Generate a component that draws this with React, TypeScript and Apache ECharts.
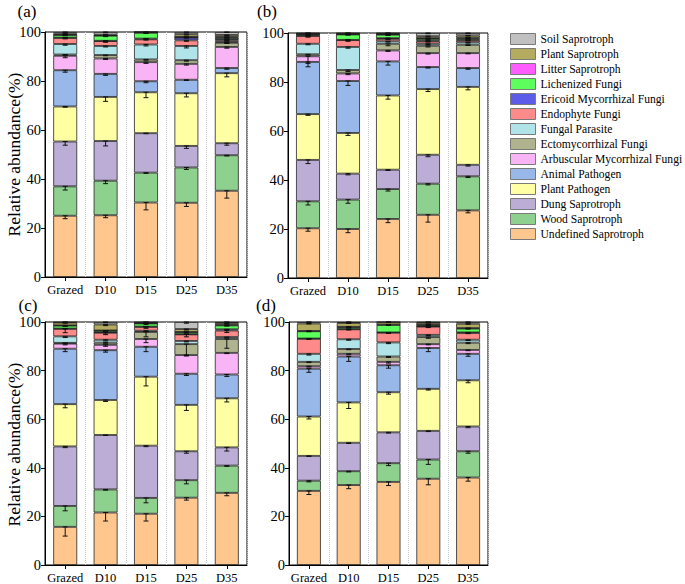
import React, { useEffect, useRef } from 'react';
import * as echarts from 'echarts';

const categories = ['Grazed', 'D10', 'D15', 'D25', 'D35'];
const yTicks = { min: 0, max: 100, interval: 20 };

// stacking order, bottom to top
const groupNames = [
  'Undefined Saprotroph', 'Wood Saprotroph', 'Dung Saprotroph', 'Plant Pathogen',
  'Animal Pathogen', 'Arbuscular Mycorrhizal Fungi', 'Ectomycorrhizal Fungi', 'Fungal Parasite',
  'Endophyte Fungi', 'Ericoid Mycorrhizal Fungi', 'Lichenized Fungi', 'Litter Saprotroph',
  'Plant Saprotroph', 'Soil Saprotroph',
];
const groupColors = [
  '#FFC68E', '#8ED18E', '#BCADD6', '#FFFFA4', '#98B8EA', '#F8B4F4', '#B0B48E',
  '#B0E4E8', '#FF8A8A', '#5C5CE8', '#5CFF5C', '#FF5CFF', '#B3AB60', '#C0C0C0',
];

// rows = groups (order above), columns = categories
const valuesA = [
  [25, 25.2, 30.4, 30.3, 35.2],
  [12, 14.1, 12.2, 14.4, 14.5],
  [18.3, 16.2, 16.1, 8.8, 4.9],
  [14.3, 18, 16.7, 21.5, 28.6],
  [14.8, 9.4, 4.5, 5.5, 2.1],
  [5.9, 6.3, 7.8, 6.5, 8.6],
  [0.5, 1.4, 1.1, 1.5, 1.7],
  [4.3, 3.7, 6.1, 5.8, 0.4],
  [2.5, 2.0, 2.1, 2.3, 0.6],
  [0.1, 0.1, 0.3, 1.1, 0.5],
  [1.1, 2.1, 2.4, 0.2, 0.6],
  [0.1, 0.1, 0.1, 0.1, 0.3],
  [0.4, 0.3, 0.2, 1.1, 0.8],
  [0.7, 1.1, 0.0, 0.9, 1.2],
];
const valuesB = [
  [20.3, 20, 24.1, 25.8, 27.6],
  [11, 12, 12.2, 12.7, 13.9],
  [16.9, 10.6, 7.9, 11.8, 4.7],
  [18.7, 16.6, 30.3, 26.8, 31.8],
  [21.3, 21.2, 13.9, 9, 7.7],
  [2.3, 3.1, 4.5, 5.7, 6.1],
  [0.8, 1.4, 2.7, 3.0, 3.4],
  [4.3, 9.4, 1.0, 0.8, 1.0],
  [3.2, 2.8, 1.0, 1.0, 0.8],
  [0.1, 0.1, 0.3, 0.3, 0.3],
  [0.5, 2.2, 1.4, 0.7, 0.5],
  [0.1, 0.1, 0.2, 0.3, 0.3],
  [0.3, 0.3, 0.3, 0.8, 0.9],
  [0.2, 0.2, 0.2, 1.3, 1.0],
];
const valuesC = [
  [15.7, 21.6, 21.1, 27.7, 29.7],
  [8.6, 9.5, 6.5, 7.2, 11.2],
  [24.5, 22.4, 21.5, 11.9, 7.5],
  [17.4, 14.4, 28.4, 19.1, 20.2],
  [22.8, 20.5, 12.3, 12.8, 9.8],
  [2.1, 2.2, 3.2, 7.7, 8.9],
  [0.3, 0.9, 2.9, 4.5, 5.7],
  [2.7, 1.2, 0.5, 1.3, 0.8],
  [3.1, 2.9, 1.6, 2.7, 2.7],
  [0.1, 0.1, 0.1, 0.1, 0.5],
  [1.2, 0.7, 1.3, 0.8, 1.6],
  [0.1, 0.1, 0.1, 0.1, 0.2],
  [1.2, 2.5, 0.3, 1.2, 0.8],
  [0.2, 1.0, 0.2, 2.9, 0.4],
];
const valuesD = [
  [30.5, 32.9, 34.2, 35.5, 36.0],
  [4.2, 5.7, 7.7, 7.9, 10.8],
  [10.2, 11.7, 12.7, 11.8, 10.2],
  [16.2, 16.6, 16.5, 17.3, 19.0],
  [19.7, 18.9, 11.1, 16.8, 10.9],
  [1.0, 1.1, 1.4, 1.6, 1.6],
  [1.8, 2.0, 2.2, 2.9, 3.0],
  [3.3, 4.0, 5.8, 0.9, 1.2],
  [6.2, 4.1, 4.0, 3.4, 2.8],
  [0.1, 0.1, 0.1, 0.1, 0.2],
  [3.0, 0.8, 3.1, 0.6, 1.6],
  [0.1, 0.1, 0.1, 0.1, 0.2],
  [3.1, 1.6, 1.0, 0.8, 1.8],
  [0.6, 0.4, 0.1, 0.3, 0.7],
];

const errorsA = [
  [1.2, 1.0, 3.0, 1.5, 3.0],
  [1.5, 1.2, 0.3, 0.8, 0.3],
  [1.5, 2.0, 0.2, 1.0, 0.8],
  [0.3, 1.8, 2.2, 1.5, 1.5],
  [0.8, 0.6, 0.6, 0.3, 0.5],
  [0.8, 0.4, 0.5, 0.5, 0.5],
  [0.2, 0.3, 0.3, 0.4, 0.3],
  [0.5, 0.4, 0.6, 0.8, 0.3],
  [0.4, 0.5, 0.3, 0.4, 0.2],
  [0.1, 0.1, 0.1, 0.2, 0.1],
  [0.3, 0.4, 0.3, 0.1, 0.1],
  [0.1, 0.1, 0.1, 0.1, 0.1],
  [0.1, 0.1, 0.1, 0.3, 0.2],
  [0.3, 0.3, 0.0, 0.3, 0.2],
];
const errorsB = [
  [1.2, 1.5, 1.5, 3.0, 1.0],
  [1.5, 1.5, 0.8, 0.5, 0.5],
  [1.5, 0.5, 0.3, 0.8, 0.5],
  [0.5, 1.0, 1.5, 1.0, 1.2],
  [2.0, 1.8, 1.5, 0.4, 0.5],
  [2.9, 0.5, 0.4, 0.4, 0.3],
  [0.3, 0.6, 0.8, 0.5, 0.3],
  [0.4, 0.5, 0.3, 0.3, 0.3],
  [0.5, 0.5, 0.3, 0.3, 0.2],
  [0.1, 0.1, 0.1, 0.1, 0.1],
  [0.2, 0.3, 0.3, 0.2, 0.1],
  [0.1, 0.1, 0.1, 0.1, 0.1],
  [0.1, 0.1, 0.1, 0.2, 0.2],
  [0.1, 0.1, 0.1, 0.3, 0.2],
];
const errorsC = [
  [3.8, 3.5, 3.0, 1.0, 1.2],
  [2.0, 0.3, 2.0, 1.5, 0.3],
  [0.5, 0.2, 0.4, 0.8, 1.5],
  [1.5, 0.6, 3.8, 2.3, 1.5],
  [1.2, 0.8, 2.0, 0.7, 0.8],
  [0.5, 0.6, 1.5, 0.4, 0.3],
  [0.2, 0.5, 2.0, 4.6, 3.8],
  [0.5, 0.5, 0.3, 0.4, 0.3],
  [1.6, 0.8, 0.6, 1.0, 0.8],
  [0.1, 0.1, 0.1, 0.1, 0.2],
  [0.3, 0.2, 0.4, 0.3, 0.3],
  [0.1, 0.1, 0.1, 0.1, 0.1],
  [0.3, 0.5, 0.2, 0.4, 0.2],
  [0.1, 0.2, 0.1, 0.5, 0.1],
];
const errorsD = [
  [1.5, 1.5, 1.5, 2.5, 1.5],
  [0.5, 0.3, 1.0, 2.0, 0.8],
  [0.2, 0.3, 0.3, 0.3, 0.5],
  [1.0, 2.5, 0.8, 0.5, 1.0],
  [1.5, 2.0, 1.2, 1.5, 1.0],
  [0.3, 0.4, 0.5, 0.3, 0.3],
  [0.3, 0.3, 0.4, 0.5, 0.4],
  [0.5, 0.4, 0.5, 0.3, 0.3],
  [0.2, 0.3, 0.3, 0.4, 0.3],
  [0.1, 0.1, 0.1, 0.1, 0.1],
  [0.2, 0.1, 0.2, 0.1, 0.2],
  [0.1, 0.1, 0.1, 0.1, 0.1],
  [0.2, 0.2, 0.1, 0.1, 0.2],
  [0.1, 0.1, 0.1, 0.1, 0.1],
];

const panelValues = [valuesA, valuesB, valuesC, valuesD];
const panelErrors = [errorsA, errorsB, errorsC, errorsD];
const panelLabels = ['(a)', '(b)', '(c)', '(d)'];
const yTitle = 'Relative abundance(%)';

const FONT = "'Liberation Serif', 'Times New Roman', Times, serif";

const grids = [
  { left: 45, top: 32, width: 202, height: 245 },
  { left: 288, top: 33, width: 200, height: 245 },
  { left: 45, top: 322, width: 202, height: 245 },
  { left: 289, top: 322, width: 199, height: 245 },
];

export default function App() {
  const ref = useRef<HTMLDivElement>(null);
  useEffect(() => {
    if (!ref.current) return;
    const chart = echarts.init(ref.current, null, { renderer: 'svg' });

    const series: any[] = [];
    panelValues.forEach((vals, p) => {
      vals.forEach((row, g) => {
        series.push({
          type: 'bar',
          name: groupNames[g],
          xAxisIndex: p,
          yAxisIndex: p,
          stack: 'panel' + p,
          barWidth: 24,
          data: row,
          itemStyle: { color: groupColors[g], borderColor: 'rgba(30,30,30,0.85)', borderWidth: 0.9 },
          emphasis: { disabled: true },
        });
      });
      const errData: number[][] = [];
      for (let c = 0; c < categories.length; c++) {
        let cum = 0;
        for (let g = 0; g < vals.length; g++) {
          cum += vals[g][c];
          if (vals[g][c] > 0) errData.push([c, cum, panelErrors[p][g][c]]);
        }
      }
      series.push({
        type: 'custom',
        name: 'err' + p,
        xAxisIndex: p,
        yAxisIndex: p,
        z: 5,
        encode: { x: 0, y: 1 },
        data: errData,
        renderItem: (params: any, api: any) => {
          const x = api.value(0);
          const top = api.value(1);
          const err = api.value(2);
          const p1 = api.coord([x, top]);
          const p0 = api.coord([x, top - err]);
          const hw = 2.5;
          const st = { stroke: '#111', lineWidth: 1 };
          return {
            type: 'group',
            children: [
              { type: 'line', shape: { x1: p1[0], y1: p1[1], x2: p0[0], y2: p0[1] }, style: st },
              { type: 'line', shape: { x1: p0[0] - hw, y1: p0[1], x2: p0[0] + hw, y2: p0[1] }, style: st },
              { type: 'line', shape: { x1: p1[0] - hw, y1: p1[1], x2: p1[0] + hw, y2: p1[1] }, style: st },
            ],
          };
        },
      });
    });

    const option: any = {
      animation: false,
      backgroundColor: '#fff',
      textStyle: { fontFamily: FONT },
      grid: grids.map((g) => ({
        ...g,
        show: true,
        borderColor: '#000',
        borderWidth: 1,
        backgroundColor: 'transparent',
      })),
      xAxis: grids.map((_, i) => ({
        type: 'category',
        gridIndex: i,
        data: categories,
        axisLine: { show: true, lineStyle: { color: '#000', width: 1 } },
        axisTick: { show: true, alignWithLabel: true, length: 4, lineStyle: { color: '#000' } },
        axisLabel: { color: '#000', fontSize: 12.5, fontFamily: FONT, margin: 6, interval: 0 },
        splitLine: { show: true, lineStyle: { color: '#c8c8c8', type: 'dotted', width: 1 } },
      })),
      yAxis: grids.map((_, i) => ({
        type: 'value',
        gridIndex: i,
        min: yTicks.min,
        max: yTicks.max,
        interval: yTicks.interval,
        axisLine: { show: true, lineStyle: { color: '#000', width: 1 } },
        axisTick: { show: true, length: 4, lineStyle: { color: '#000' } },
        axisLabel: { color: '#000', fontSize: 14.5, fontFamily: FONT, margin: 4 },
        splitLine: { show: false },
      })),
      legend: {
        orient: 'vertical',
        left: 510,
        top: 33,
        padding: 0,
        itemWidth: 25,
        itemHeight: 11,
        itemGap: 3,
        icon: 'rect',
        selectedMode: false,
        data: groupNames.slice().reverse(),
        itemStyle: { borderColor: '#7a7a7a', borderWidth: 1 },
        textStyle: { color: '#000', fontSize: 11.6, fontFamily: FONT, padding: [0, 0, 0, 0] },
      },
      graphic: [
        ...panelLabels.map((t, i) => ({
          type: 'text',
          x: [27, 267, 28, 266][i],
          y: [11, 11, 305, 305][i],
          style: { text: t, fontSize: 17, fontFamily: FONT, fill: '#000', align: 'center', verticalAlign: 'middle' },
        })),
        ...[154.5, 444.5].map((cy) => ({
          type: 'text',
          x: 14,
          y: cy,
          rotation: Math.PI / 2,
          style: { text: yTitle, fontSize: 17.5, fontFamily: FONT, fill: '#000', align: 'center', verticalAlign: 'middle' },
        })),
      ],
      series,
    };
    chart.setOption(option);
    return () => chart.dispose();
  }, []);
  return <div ref={ref} style={{ position: 'absolute', left: 0, top: 0, width: 685, height: 584 }} />;
}
